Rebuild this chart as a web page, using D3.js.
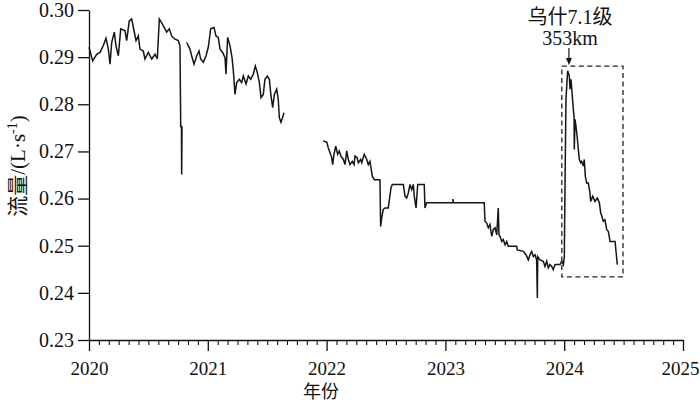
<!DOCTYPE html>
<html><head><meta charset="utf-8">
<script src="https://cdn.jsdelivr.net/npm/d3@7"></script>
<style>
html,body{margin:0;padding:0;background:#fff;}
svg{display:block;}
.sf{font-family:"Liberation Serif","Times New Roman",Times,"DejaVu Serif",serif;}
.cj{font-family:"Noto Sans CJK SC","Noto Sans CJK JP",sans-serif;}
</style></head>
<body>
<svg id="chart" width="700" height="402"></svg>
<script>
// ---- data ----
const yearTicks = [2020, 2021, 2022, 2023, 2024, 2025];
const flowTicks = [0.23, 0.24, 0.25, 0.26, 0.27, 0.28, 0.29, 0.30];

const timeA = [
2020.000, 2020.031, 2020.065, 2020.093, 2020.120, 2020.143, 2020.163, 2020.177, 2020.191, 2020.213,
2020.227, 2020.247, 2020.267, 2020.303, 2020.317, 2020.339, 2020.359, 2020.379, 2020.396, 2020.415,
2020.429, 2020.457, 2020.471, 2020.499, 2020.528, 2020.556, 2020.575, 2020.592, 2020.625, 2020.654,
2020.676, 2020.696, 2020.724, 2020.752, 2020.766, 2020.772, 2020.778, 2020.780, 2020.783
];
const flowA = [
0.2921, 0.2892, 0.2906, 0.2910, 0.2924, 0.2940, 0.2917, 0.2885, 0.2931, 0.2953,
0.2924, 0.2903, 0.2960, 0.2956, 0.2935, 0.2977, 0.2981, 0.2956, 0.2935, 0.2945,
0.2917, 0.2913, 0.2896, 0.2910, 0.2896, 0.2906, 0.2896, 0.2981, 0.2967, 0.2953,
0.2960, 0.2945, 0.2938, 0.2935, 0.2924, 0.2753, 0.2753, 0.2651, 0.2753
];

const timeB = [
2020.822, 2020.850, 2020.864, 2020.884, 2020.907, 2020.926, 2020.940, 2020.962, 2020.985, 2021.004,
2021.013, 2021.024, 2021.052, 2021.069, 2021.088, 2021.103, 2021.125, 2021.145, 2021.153, 2021.167,
2021.187, 2021.204, 2021.215, 2021.229, 2021.243, 2021.265, 2021.285, 2021.299, 2021.322, 2021.341,
2021.361, 2021.383, 2021.400, 2021.417, 2021.434, 2021.448, 2021.467, 2021.481, 2021.501, 2021.518,
2021.532, 2021.546, 2021.560, 2021.580, 2021.593, 2021.602, 2021.616, 2021.630, 2021.641
];
const flowB = [
0.2931, 0.2917, 0.2903, 0.2885, 0.2903, 0.2913, 0.2896, 0.2889, 0.2903, 0.2921,
0.2938, 0.2960, 0.2963, 0.2945, 0.2942, 0.2917, 0.2910, 0.2899, 0.2864, 0.2942,
0.2924, 0.2899, 0.2871, 0.2821, 0.2846, 0.2853, 0.2846, 0.2860, 0.2843, 0.2860,
0.2853, 0.2864, 0.2881, 0.2867, 0.2846, 0.2814, 0.2821, 0.2853, 0.2860, 0.2853,
0.2818, 0.2793, 0.2821, 0.2832, 0.2811, 0.2772, 0.2762, 0.2772, 0.2782
];

const timeC = [
2021.972, 2022.001, 2022.014, 2022.029, 2022.043, 2022.051, 2022.062, 2022.077, 2022.093, 2022.107,
2022.121, 2022.141, 2022.155, 2022.169, 2022.183, 2022.197, 2022.216, 2022.231, 2022.239, 2022.256,
2022.267, 2022.287, 2022.296, 2022.317, 2022.338, 2022.351, 2022.365, 2022.385, 2022.402, 2022.449,
2022.455, 2022.464, 2022.477, 2022.492, 2022.519, 2022.542, 2022.553, 2022.646, 2022.660, 2022.674,
2022.688, 2022.702, 2022.716, 2022.730, 2022.738, 2022.753, 2022.767, 2022.822, 2022.828, 2022.842,
2023.063, 2023.064, 2023.067, 2023.327, 2023.333, 2023.348, 2023.361, 2023.375, 2023.390, 2023.403,
2023.418, 2023.432, 2023.445, 2023.451, 2023.460, 2023.474, 2023.487, 2023.502, 2023.516, 2023.529,
2023.600, 2023.605, 2023.656, 2023.678, 2023.698, 2023.712, 2023.726, 2023.740, 2023.754, 2023.768,
2023.774, 2023.777, 2023.796, 2023.824, 2023.838, 2023.853, 2023.866, 2023.880, 2023.895, 2023.908,
2023.923, 2023.950, 2023.965, 2023.979, 2023.993, 2024.001, 2024.007, 2024.015, 2024.029, 2024.043,
2024.049, 2024.057, 2024.066, 2024.077, 2024.083, 2024.085, 2024.091, 2024.099, 2024.110, 2024.119,
2024.127, 2024.139, 2024.147, 2024.161, 2024.169, 2024.178, 2024.189, 2024.203, 2024.217, 2024.223,
2024.240, 2024.259, 2024.279, 2024.296, 2024.307, 2024.318, 2024.329, 2024.343, 2024.358, 2024.372,
2024.386, 2024.428, 2024.447
];
const flowC = [
0.2722, 0.2720, 0.2708, 0.2697, 0.2687, 0.2672, 0.2694, 0.2711, 0.2694, 0.2701,
0.2690, 0.2683, 0.2672, 0.2701, 0.2683, 0.2672, 0.2679, 0.2672, 0.2690, 0.2687,
0.2676, 0.2683, 0.2676, 0.2694, 0.2683, 0.2672, 0.2679, 0.2647, 0.2640, 0.2640,
0.2541, 0.2559, 0.2577, 0.2580, 0.2580, 0.2623, 0.2630, 0.2630, 0.2605, 0.2601,
0.2612, 0.2630, 0.2619, 0.2630, 0.2605, 0.2580, 0.2630, 0.2630, 0.2580, 0.2591,
0.2591, 0.2599, 0.2591, 0.2591, 0.2552, 0.2548, 0.2538, 0.2545, 0.2520, 0.2534,
0.2538, 0.2523, 0.2580, 0.2523, 0.2520, 0.2509, 0.2513, 0.2502, 0.2509, 0.2499,
0.2499, 0.2491, 0.2488, 0.2481, 0.2470, 0.2481, 0.2488, 0.2477, 0.2481, 0.2470,
0.2389, 0.2477, 0.2470, 0.2467, 0.2456, 0.2467, 0.2453, 0.2460, 0.2456, 0.2449,
0.2460, 0.2460, 0.2460, 0.2467, 0.2460, 0.2477, 0.2633, 0.2811, 0.2871, 0.2860,
0.2832, 0.2853, 0.2825, 0.2789, 0.2775, 0.2704, 0.2768, 0.2754, 0.2729, 0.2704,
0.2683, 0.2676, 0.2679, 0.2669, 0.2683, 0.2647, 0.2633, 0.2633, 0.2612, 0.2594,
0.2605, 0.2594, 0.2601, 0.2591, 0.2570, 0.2562, 0.2552, 0.2555, 0.2534, 0.2530,
0.2509, 0.2509, 0.2460
];

// earthquake annotation
const quakeLabel = ["乌什7.1级", "353km"];
const quakeTime = 2024.04;
const boxTime = [2023.98, 2024.495];
const boxFlow = [0.2434, 0.2881];

// ---- chart ----
const svg = d3.select("#chart");
const x = d3.scaleLinear().domain([2020, 2025]).range([89, 683]);
const y = d3.scaleLinear().domain([0.23, 0.30]).range([340, 10]);

// minor monthly ticks
const months = d3.range(0, 60).filter(i => i % 12 !== 0).map(i => 2020 + i / 12);
svg.append("g").attr("transform", "translate(0,340)")
  .call(d3.axisBottom(x).tickValues(months).tickSize(5).tickSizeOuter(0).tickFormat(""))
  .call(g => g.select(".domain").remove())
  .selectAll("line").attr("stroke", "#111").attr("stroke-width", 1.1);

// x axis
const gx = svg.append("g").attr("transform", "translate(0,340)")
  .call(d3.axisBottom(x).tickValues(yearTicks).tickSize(11).tickSizeOuter(0).tickFormat(d3.format("d")));
gx.attr("font-family", null);
gx.select(".domain").attr("stroke", "#111").attr("stroke-width", 1.3);
gx.selectAll("line").attr("stroke", "#111").attr("stroke-width", 1.3);
gx.selectAll("text").attr("class", "sf").attr("font-size", 19).attr("fill", "#111")
  .attr("y", 35).attr("dy", null);
// keep the last year label inside the frame
gx.selectAll("text").filter(d => d === 2025).attr("text-anchor", "end").attr("x", 16);

// y axis
const gy = svg.append("g").attr("transform", "translate(89,0)")
  .call(d3.axisLeft(y).tickValues(flowTicks).tickSize(11).tickSizeOuter(0).tickPadding(4).tickFormat(d3.format(".2f")));
gy.attr("font-family", null);
gy.select(".domain").attr("stroke", "#111").attr("stroke-width", 1.3);
gy.selectAll("line").attr("stroke", "#111").attr("stroke-width", 1.3);
gy.selectAll("text").attr("class", "sf").attr("font-size", 20).attr("fill", "#111");

// axis titles
svg.append("text").attr("class", "cj").attr("x", 321).attr("y", 398).attr("text-anchor", "middle")
  .attr("font-size", 18).attr("fill", "#111").text("年份");

const yt = svg.append("text").attr("transform", "translate(25,166) rotate(-90)")
  .attr("text-anchor", "middle").attr("fill", "#111").attr("font-size", 21);
yt.append("tspan").attr("class", "cj").text("流量");
yt.append("tspan").attr("class", "sf").text("/(L·s");
yt.append("tspan").attr("class", "sf").attr("font-size", 14).attr("dy", -8).text("-1");
yt.append("tspan").attr("class", "sf").attr("dy", 8).text(")");

// data lines
const line = d3.line().x(d => x(d[0])).y(d => y(d[1]));
[[timeA, flowA], [timeB, flowB], [timeC, flowC]].forEach(([t, f]) => {
  svg.append("path").datum(t.map((d, i) => [d, f[i]]))
    .attr("d", line).attr("fill", "none").attr("stroke", "#151515")
    .attr("stroke-width", 1.5).attr("stroke-linejoin", "miter");
});

// dashed box
svg.append("rect")
  .attr("x", x(boxTime[0])).attr("y", y(boxFlow[1]))
  .attr("width", x(boxTime[1]) - x(boxTime[0])).attr("height", y(boxFlow[0]) - y(boxFlow[1]))
  .attr("fill", "none").attr("stroke", "#222").attr("stroke-width", 1.3).attr("stroke-dasharray", "5,3.5");

// arrow
const ax = x(quakeTime);
svg.append("line").attr("x1", ax).attr("x2", ax).attr("y1", 48).attr("y2", 60)
  .attr("stroke", "#111").attr("stroke-width", 1.2);
svg.append("path").attr("d", `M${ax - 3},58 L${ax + 3},58 L${ax},65 Z`).attr("fill", "#111");

// labels
svg.append("text").attr("x", 570).attr("y", 24).attr("text-anchor", "middle")
  .attr("fill", "#111").attr("font-size", 20)
  .call(t => {
    t.append("tspan").attr("class", "cj").text("乌什");
    t.append("tspan").attr("class", "sf").text("7.1");
    t.append("tspan").attr("class", "cj").text("级");
  });
svg.append("text").attr("class", "sf").attr("x", 570).attr("y", 45).attr("text-anchor", "middle")
  .attr("font-size", 20).attr("fill", "#111").text(quakeLabel[1]);
</script>
</body></html>
